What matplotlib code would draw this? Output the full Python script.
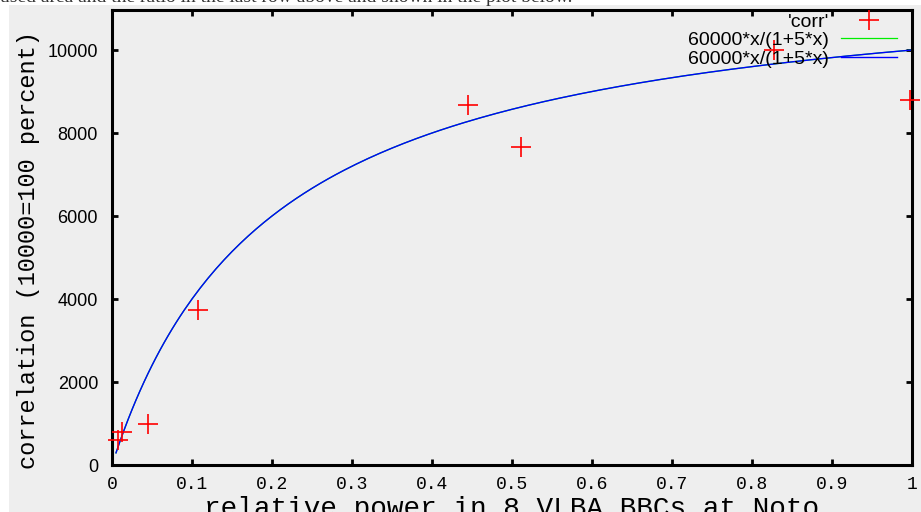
import numpy as np
import matplotlib.pyplot as plt
from matplotlib.patches import Rectangle

# measured points ('corr')
power = [0.007, 0.012, 0.045, 0.108, 0.445, 0.511, 0.828, 0.998]
corr = [600, 800, 1000, 3730, 8675, 7665, 10000, 8795]

# fitted curve 60000*x/(1+5*x)
xf = np.linspace(0.005, 1.0, 200)
yf = 60000 * xf / (1 + 5 * xf)

W, H = 921, 512
fig = plt.figure(figsize=(W / 100, H / 100), dpi=100)
fig.patch.set_facecolor("white")
# grey screenshot background
fig.patches.append(Rectangle((9 / W, 0), 1, (H - 5) / H, transform=fig.transFigure,
                             facecolor="#eeeeee", edgecolor="none", zorder=-10))
# cut off line of text above the plot (only its lower edge is visible)
fig.text(0.0, 1 - 2 / H, "used area and the ratio in the last row above and shown in the plot below.",
         family="Liberation Serif", fontsize=14, color="#333333", va="baseline", ha="left")

ax = fig.add_axes([112 / W, 47 / H, 800 / W, 455 / H])
ax.set_facecolor("none")

ax.plot(xf, yf, color="#00ee00", lw=0.9, label="60000*x/(1+5*x)")
ax.plot(xf, yf, color="#0000ff", lw=1.0, label="60000*x/(1+5*x)")
ax.plot(power, corr, ls="none", marker="+", color="red", ms=14, mew=1.2,
        label="'corr'", zorder=5, clip_on=False)

ax.set_xlim(0, 1)
ax.set_ylim(0, 10964)
ax.set_xticks(np.arange(0, 1.01, 0.1))
ax.set_xticklabels(["0", "0.1", "0.2", "0.3", "0.4", "0.5", "0.6", "0.7", "0.8", "0.9", "1"],
                   family="Liberation Mono", fontsize=13)
ax.set_yticks(np.arange(0, 10001, 2000))
ax.set_yticklabels([str(v) for v in range(0, 10001, 2000)],
                   family="Liberation Sans", fontsize=13)
ax.tick_params(direction="in", length=4, width=2, top=True, right=True, pad=8)
ax.tick_params(axis="y", pad=10)
for s in ax.spines.values():
    s.set_linewidth(2.2)

ax.set_xlabel("relative power in 8 VLBA BBCs at Noto", family="Liberation Mono",
              fontsize=20, labelpad=2)
ax.set_ylabel("correlation (10000=100 percent)", family="Liberation Mono", fontsize=17)
ax.yaxis.set_label_coords(-0.09, 0.472)

# legend order as in gnuplot key
h, l = ax.get_legend_handles_labels()
leg = ax.legend([h[2], h[0], h[1]], [l[2], l[0], l[1]], loc="upper right",
                bbox_to_anchor=(897 / W, (H - 13) / H), bbox_transform=fig.transFigure,
                frameon=False, markerfirst=False, handlelength=2.9, handletextpad=0.6,
                labelspacing=0.05, borderpad=0, borderaxespad=0,
                prop={"family": "Liberation Sans", "size": 14})

fig.savefig("out.png", dpi=100)
